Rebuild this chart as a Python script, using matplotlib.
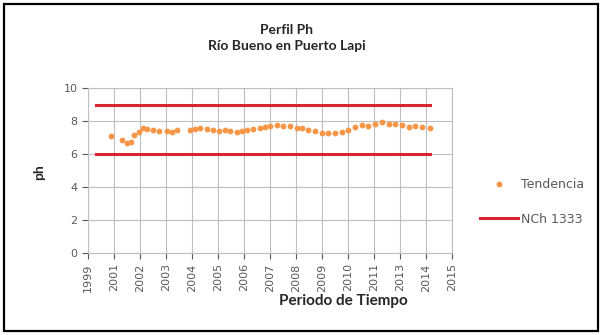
import matplotlib
matplotlib.use("Agg")
import matplotlib.pyplot as plt
from matplotlib.patches import Rectangle

# axis categories (evenly spaced tick positions)
year_labels = ["1999", "2001", "2002", "2003", "2004", "2005", "2006", "2007",
               "2008", "2009", "2010", "2011", "2013", "2014", "2015"]

# pH samples, position along the time axis and measured value
sample_pos = [0.87, 1.29, 1.49, 1.64, 1.77, 1.94, 2.13, 2.28, 2.51, 2.71,
              3.03, 3.22, 3.41, 3.92, 4.12, 4.31, 4.56, 4.82, 5.05, 5.27,
              5.46, 5.72, 5.91, 6.10, 6.36, 6.62, 6.81, 7.00, 7.26, 7.51,
              7.77, 8.03, 8.22, 8.47, 8.73, 8.99, 9.24, 9.50, 9.76, 10.01,
              10.27, 10.53, 10.78, 11.04, 11.29, 11.55, 11.81, 12.06, 12.32,
              12.58, 12.83, 13.15]
ph_values = [7.09, 6.85, 6.65, 6.75, 7.15, 7.35, 7.55, 7.50, 7.45, 7.40,
             7.40, 7.35, 7.45, 7.45, 7.50, 7.55, 7.50, 7.45, 7.40, 7.45,
             7.42, 7.35, 7.40, 7.45, 7.50, 7.55, 7.65, 7.70, 7.75, 7.72,
             7.68, 7.60, 7.55, 7.45, 7.40, 7.30, 7.25, 7.30, 7.35, 7.45,
             7.65, 7.75, 7.70, 7.80, 7.95, 7.85, 7.80, 7.75, 7.65, 7.70,
             7.65, 7.55]

# NCh 1333 limits
norm_start, norm_end = 0.3, 13.15
norm_upper = 9.0
norm_lower = 6.0

grey = "#595959"
orange = "#F79646"
red = "#D7262E"

fig = plt.figure(figsize=(6.03, 3.35), dpi=100)
ax = fig.add_axes([0.146, 0.245, 0.604, 0.492])

ax.plot(sample_pos, ph_values, linestyle="none", marker="o", markersize=4.2,
        color=orange, markeredgewidth=0, label="Tendencia", zorder=3)
ax.plot([norm_start, norm_end], [norm_upper, norm_upper], color=red, lw=2.2,
        label="NCh 1333", zorder=2)
ax.plot([norm_start, norm_end], [norm_lower, norm_lower], color=red, lw=2.2,
        zorder=2)

ax.set_xlim(0, len(year_labels) - 1)
ax.set_ylim(0, 10)
ax.set_xticks(range(len(year_labels)))
ax.set_xticklabels(year_labels, rotation=90)
ax.set_yticks(range(0, 11, 2))

ax.grid(True, color="#bfbfbf", lw=0.8)
ax.set_axisbelow(True)
for s in ax.spines.values():
    s.set_color("#bfbfbf")
    s.set_linewidth(0.8)
ax.tick_params(colors=grey, labelsize=8, length=4, width=0.8)
for t in ax.get_xticklines() + ax.get_yticklines():
    t.set_color("#bfbfbf")

fig.text(0.475, 0.886, "Perfil Ph\nRío Bueno en Puerto Lapi", ha="center",
         va="center", fontsize=10, fontweight="bold", family="Lato",
         color="#262626", linespacing=1.45)
fig.text(0.57, 0.10, "Periodo de Tiempo", ha="center", va="center",
         fontsize=11, fontweight="bold", family="Lato", color="#262626")
fig.text(0.065, 0.485, "ph", ha="center", va="center", rotation=90,
         fontsize=10, fontweight="bold", family="Lato", color="#262626")

leg = fig.legend(loc="upper left", bbox_to_anchor=(0.785, 0.486),
                 frameon=False, fontsize=9, handlelength=3.1,
                 handletextpad=0.2, labelspacing=1.7, borderpad=0)
for txt in leg.get_texts():
    txt.set_color(grey)

# outer frame around the whole chart
fig.patches.append(Rectangle((0.007, 0.012), 0.985, 0.976, transform=fig.transFigure,
                             fill=False, edgecolor="black", lw=1.6))

fig.savefig("out.png", dpi=100)
